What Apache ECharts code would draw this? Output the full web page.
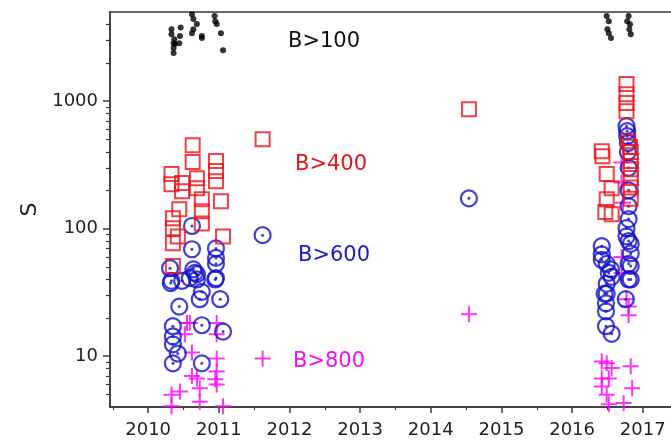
<!DOCTYPE html>
<html lang="en">
<head>
    <meta charset="UTF-8">
    <title>S vs year</title>
    <script type="text/javascript" src="https://cdn.jsdelivr.net/npm/echarts@6/dist/echarts.min.js"></script>
    <style>
        html, body { margin: 0; padding: 0; background: #fff; }
    </style>
</head>
<body>
<div id="chart" style="width: 671px;height:441px;"></div>
<script>
    // tick labels
    var yearTicks = [2010, 2011, 2012, 2013, 2014, 2015, 2016, 2017];
    var yearMinor = [2009.5, 2010.5, 2011.5, 2012.5, 2013.5, 2014.5, 2015.5, 2016.5];
    var sTicks = [10, 100, 1000];
    var sMinor = [5, 6, 7, 8, 9, 20, 30, 40, 50, 60, 70, 80, 90,
        200, 300, 400, 500, 600, 700, 800, 900, 2000, 3000, 4000];

    // B>100 (black dots)
    var b100 = [
        [2010.33, 3670], [2010.33, 3350], [2010.46, 3780], [2010.45, 3235], [2010.37, 3060],
        [2010.36, 2850], [2010.38, 2800], [2010.36, 2605], [2010.36, 2380], [2010.44, 2850],
        [2010.62, 4810], [2010.64, 4400], [2010.69, 4020], [2010.64, 3670], [2010.62, 3410],
        [2010.76, 3235], [2010.76, 3120], [2010.94, 4650], [2010.95, 4240], [2010.97, 4020],
        [2011.03, 3410], [2011.06, 2510],
        [2016.49, 4650], [2016.52, 4240], [2016.50, 3670], [2016.52, 3410], [2016.55, 3120],
        [2016.80, 4650], [2016.78, 4240], [2016.81, 3670], [2016.83, 3350], [2016.82, 4000]
    ];
    // B>400 (red squares)
    var b400 = [
        [2010.63, 452], [2010.63, 333], [2010.96, 339], [2010.96, 283], [2010.96, 236],
        [2010.33, 268], [2010.33, 223], [2010.48, 228], [2010.48, 197], [2010.69, 249],
        [2010.69, 208], [2010.76, 170], [2010.76, 137], [2010.76, 110], [2011.03, 164],
        [2010.44, 142], [2010.35, 121], [2010.35, 101], [2010.42, 87], [2010.35, 77],
        [2011.06, 87], [2010.35, 51],
        [2011.62, 503], [2014.54, 865],
        [2016.77, 1360], [2016.77, 1135], [2016.77, 965], [2016.77, 835], [2016.79, 485],
        [2016.82, 440], [2016.83, 400], [2016.83, 340], [2016.83, 293], [2016.83, 250],
        [2016.83, 210], [2016.83, 172], [2016.42, 405], [2016.43, 370], [2016.49, 268],
        [2016.56, 208], [2016.49, 170], [2016.56, 130], [2016.47, 135]
    ];
    // B>600 (blue circles)
    var b600 = [
        [2010.62, 105], [2010.62, 69], [2010.96, 70], [2010.96, 59], [2010.96, 53],
        [2010.31, 49], [2010.32, 37.5], [2010.48, 39], [2010.64, 48], [2010.69, 44],
        [2010.59, 41], [2010.96, 41], [2010.33, 39], [2010.66, 45], [2010.69, 40],
        [2010.95, 40], [2010.76, 32], [2010.73, 28], [2011.02, 28], [2010.44, 24.5],
        [2010.35, 17.2], [2010.76, 17.5], [2011.06, 15.6], [2010.35, 14.3], [2010.35, 12.4],
        [2010.42, 10.5], [2010.35, 8.8], [2010.76, 8.8],
        [2011.62, 89], [2014.54, 173],
        [2016.77, 637], [2016.78, 582], [2016.78, 531], [2016.79, 470], [2016.79, 400],
        [2016.80, 300], [2016.80, 200], [2016.80, 150],
        [2016.80, 119], [2016.77, 101], [2016.77, 87], [2016.80, 80], [2016.83, 76],
        [2016.83, 64], [2016.80, 53], [2016.83, 51], [2016.80, 40], [2016.83, 40],
        [2016.76, 28], [2016.42, 73], [2016.42, 63], [2016.42, 57], [2016.49, 53],
        [2016.55, 48], [2016.56, 42], [2016.49, 37], [2016.49, 31], [2016.48, 26],
        [2016.48, 22.5], [2016.48, 17.2], [2016.56, 15], [2016.46, 31], [2016.52, 45]
    ];
    // B>800 (magenta crosses)
    var b800 = [
        [2010.59, 18.2], [2010.97, 18.2], [2010.97, 14.9], [2010.52, 14.9], [2010.62, 10.7],
        [2010.97, 9.6], [2010.97, 7.6], [2010.95, 6.6], [2010.62, 7], [2010.69, 6.7],
        [2010.73, 5.6], [2010.45, 5.3], [2010.33, 5.0], [2010.73, 4.4], [2010.33, 4.05],
        [2010.97, 6.0], [2011.06, 4.05], [2010.55, 18.2],
        [2011.62, 9.6], [2014.54, 21.3],
        [2016.42, 9.1], [2016.49, 8.8], [2016.56, 8.1], [2016.83, 8.35], [2016.42, 6.7],
        [2016.52, 6.7], [2016.42, 5.8], [2016.85, 5.6], [2016.49, 5.0], [2016.52, 4.2],
        [2016.73, 4.3], [2016.77, 28], [2016.80, 24.5], [2016.80, 21],
        [2016.70, 330], [2016.70, 230], [2016.72, 160], [2016.70, 60], [2016.70, 45]
    ];

    var FONT = 'DejaVu Sans';
    var AXIS = '#3a3a3a';
    var plain = function (v) { return String(Math.round(v)); };

    var option = {
        animation: false,
        backgroundColor: '#fff',
        grid: { left: 110, top: 12, right: 0, bottom: 34 },
        xAxis: [{
            type: 'value', min: 2009.46, max: 2017.4, position: 'bottom',
            axisLine: { lineStyle: { color: AXIS, width: 1.5 } },
            axisTick: { show: true, inside: false, length: 6, customValues: yearTicks, lineStyle: { color: AXIS, width: 1.5 } },
            axisLabel: { customValues: yearTicks, formatter: plain, margin: 14, fontFamily: FONT, fontSize: 18, color: '#222' },
            splitLine: { show: false }
        }, {
            // minor ticks
            type: 'value', min: 2009.46, max: 2017.4, position: 'bottom',
            axisLine: { show: true, lineStyle: { color: AXIS, width: 1.5 } },
            axisTick: { show: true, length: 3, customValues: yearMinor, lineStyle: { color: AXIS, width: 1.2 } },
            axisLabel: { show: false },
            splitLine: { show: false }
        }, {
            type: 'value', min: 2009.46, max: 2017.4, position: 'top',
            axisLine: { lineStyle: { color: AXIS, width: 1.5 } },
            axisTick: { show: false },
            axisLabel: { show: false },
            splitLine: { show: false }
        }],
        yAxis: [{
            type: 'log', logBase: 10, min: 4, max: 5000, position: 'left',
            name: 'S', nameLocation: 'middle', nameRotate: 90, nameGap: 60,
            nameTextStyle: { fontFamily: FONT, fontSize: 22, color: '#222' },
            axisLine: { show: true, lineStyle: { color: AXIS, width: 1.5 } },
            axisTick: { show: true, length: 7, customValues: sTicks, lineStyle: { color: AXIS, width: 1.5 } },
            axisLabel: { customValues: sTicks, formatter: plain, margin: 12, fontFamily: FONT, fontSize: 18, color: '#222' },
            splitLine: { show: false }
        }, {
            // minor ticks
            type: 'log', logBase: 10, min: 4, max: 5000, position: 'left',
            axisLine: { show: true, lineStyle: { color: AXIS, width: 1.5 } },
            axisTick: { show: true, length: 4, customValues: sMinor, lineStyle: { color: AXIS, width: 1.2 } },
            axisLabel: { show: false },
            splitLine: { show: false }
        }],
        series: [{
            name: 'B>100', type: 'scatter', symbol: 'circle', symbolSize: 6,
            itemStyle: { color: '#000' }, data: b100, silent: true
        }, {
            name: 'B>800', type: 'scatter', symbol: 'path://M0,5L10,5M5,0L5,10', symbolSize: 16,
            itemStyle: { color: 'rgba(0,0,0,0)', borderColor: '#ff00ff', borderWidth: 2 },
            data: b800, silent: true
        }, {
            name: 'B>600', type: 'scatter', symbol: 'circle', symbolSize: 16,
            itemStyle: { color: 'rgba(0,0,0,0)', borderColor: '#1010cc', borderWidth: 2.2 },
            data: b600, silent: true
        }, {
            name: 'B>600 dot', type: 'scatter', symbol: 'circle', symbolSize: 3,
            itemStyle: { color: '#1010cc' }, data: b600, silent: true
        }, {
            name: 'B>400', type: 'scatter', symbol: 'rect', symbolSize: 14,
            itemStyle: { color: 'rgba(0,0,0,0)', borderColor: '#ec1218', borderWidth: 2 },
            data: b400, silent: true
        }],
        graphic: [
            { type: 'text', left: 288, top: 31, style: { text: 'B>100', fill: '#111', font: '21px "DejaVu Sans"' } },
            { type: 'text', left: 295, top: 154, style: { text: 'B>400', fill: '#ec1218', font: '21px "DejaVu Sans"' } },
            { type: 'text', left: 298, top: 245, style: { text: 'B>600', fill: '#1a1acc', font: '21px "DejaVu Sans"' } },
            { type: 'text', left: 293, top: 351, style: { text: 'B>800', fill: '#f010f0', font: '21px "DejaVu Sans"' } }
        ]
    };

    var myChart = echarts.init(document.getElementById('chart'));
    myChart.setOption(option);
</script>
</body>
</html>
